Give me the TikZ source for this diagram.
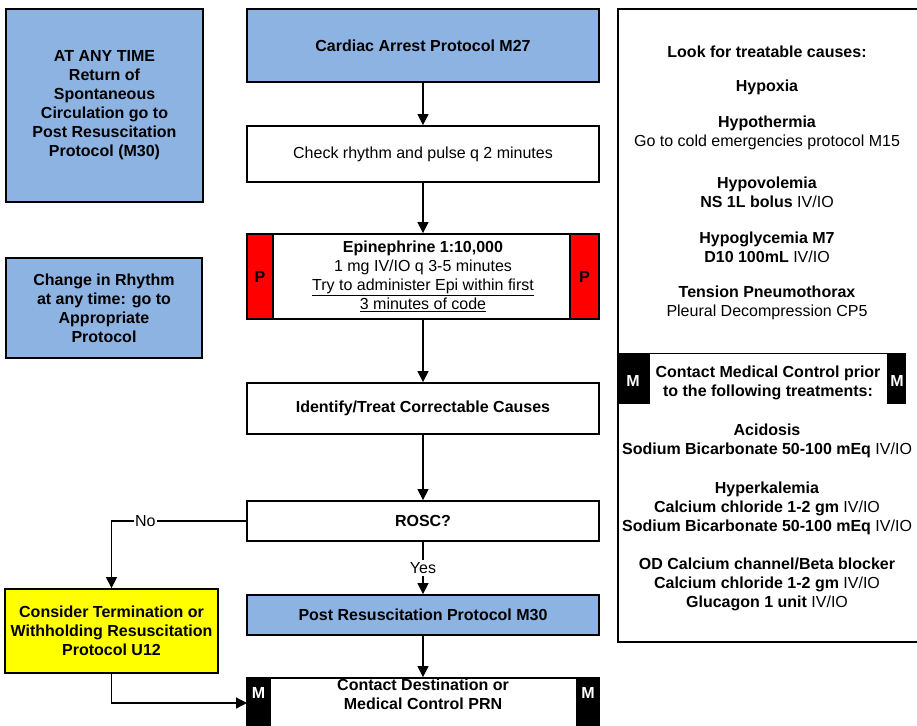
\documentclass[tikz,border=0pt]{standalone}
\usepackage{fontspec}
\setmainfont{Liberation Sans}
\usetikzlibrary{arrows.meta}
\definecolor{protoblue}{RGB}{141,179,226}
\definecolor{termyellow}{RGB}{255,255,0}
\definecolor{pred}{RGB}{255,0,0}
\newcommand{\txt}{\fontsize{16}{19}\selectfont}
\begin{document}
\begin{tikzpicture}[x=1pt,y=-1pt,
  every node/.style={font=\txt},
  box/.style={draw=black, line width=1.8pt, rectangle, inner sep=0pt, align=center},
  plainbox/.style={box, fill=white},
  boldbox/.style={box, fill=white, font=\txt\bfseries},
  bluebox/.style={box, fill=protoblue, font=\txt\bfseries},
  yellowbox/.style={box, fill=termyellow, font=\txt\bfseries},
  pbar/.style={draw=black, line width=1.8pt, fill=pred, inner sep=0pt},
  mbar/.style={draw=black, line width=1.2pt, fill=black, inner sep=0pt},
  mletter/.style={text=white, font=\txt\bfseries, inner sep=0pt},
  info/.style={align=center, inner sep=0pt},
  infob/.style={align=center, inner sep=0pt, font=\txt\bfseries},
  conn/.style={draw=black, line width=1.2pt, -{Triangle[width=11pt,length=11pt]}},
  lbl/.style={fill=white, inner xsep=1pt, inner ysep=2pt, font=\txt}
]
\clip (0,0) rectangle (917,725);
\fill[white] (0,0) rectangle (917,725);

% reminder boxes on the left
\node[bluebox, minimum width=197pt, minimum height=193pt] (anytime) at (104.5,105.5)
  {AT ANY TIME\\Return of\\Spontaneous\\Circulation go to\\Post Resuscitation\\Protocol (M30)};
\node[bluebox, minimum width=196pt, minimum height=100pt] (rhythmchg) at (104,308)
  {Change in Rhythm\\at any time: go to\\Appropriate\\Protocol};

% main column
\node[bluebox, minimum width=352pt, minimum height=73pt] (arrest) at (423,45.5)
  {Cardiac Arrest Protocol M27};
\node[plainbox, minimum width=352pt, minimum height=56pt] (check) at (423,154)
  {Check rhythm and pulse q 2 minutes};
\node[plainbox, minimum width=352pt, minimum height=85pt] (epi) at (423,276.5)
  {\textbf{Epinephrine 1:10,000}\\1 mg IV/IO q 3-5 minutes\\
   \underline{Try to administer Epi within first}\\\underline{3 minutes of code}};
\node[pbar, minimum width=26pt, minimum height=85pt] (epiPL) at (260,276.5) {};
\node[pbar, minimum width=29pt, minimum height=85pt] (epiPR) at (584.5,276.5) {};
\node[font=\txt\bfseries, inner sep=0pt] (pL) at (epiPL) {P};
\node[font=\txt\bfseries, inner sep=0pt] (pR) at (epiPR) {P};
\node[boldbox, minimum width=352pt, minimum height=51pt] (identify) at (423,408.5)
  {Identify/Treat Correctable Causes};
\node[boldbox, minimum width=352pt, minimum height=40pt] (rosc) at (423,521) {ROSC?};
\node[bluebox, minimum width=352pt, minimum height=40pt] (post) at (423,615)
  {Post Resuscitation Protocol M30};
\node[yellowbox, minimum width=213pt, minimum height=84pt] (term) at (111.5,631)
  {Consider Termination or\\Withholding Resuscitation\\Protocol U12};

% contact box with medical control bars
\node[plainbox, minimum width=352pt, minimum height=68pt] (contact) at (423,712) {};
\node[mbar, minimum width=23pt, minimum height=68pt] (contactML) at (258.5,712) {};
\node[mbar, minimum width=22pt, minimum height=68pt] (contactMR) at (588,712) {};
\node[mletter] (cmL) at (258.5,693) {M};
\node[mletter] (cmR) at (588,693) {M};
\node[infob] (contacttext) at (423,694.5) {Contact Destination or\\Medical Control PRN};
\coordinate (cin) at (247,703);

% treatable causes panel
\node[box, minimum width=302pt, minimum height=633pt] (causes) at (769,325.5) {};
\node[infob] (look) at (767,52) {Look for treatable causes:};
\node[infob] (hypoxia) at (767,87) {Hypoxia};
\node[info] (hypothermia) at (767,133) {\textbf{Hypothermia}\\Go to cold emergencies protocol M15};
\node[info] (hypovolemia) at (767,192.5) {\textbf{Hypovolemia}\\\textbf{NS 1L bolus} IV/IO};
\node[info] (hypoglycemia) at (767,247.5) {\textbf{Hypoglycemia M7}\\\textbf{D10 100mL} IV/IO};
\node[info] (tension) at (767,302.5) {\textbf{Tension Pneumothorax}\\Pleural Decompression CP5};
\node[mbar, minimum width=31pt, minimum height=49pt] (mbL) at (633.5,378.5) {};
\node[mbar, minimum width=17pt, minimum height=49pt] (mbR) at (896.5,378.5) {};
\draw[line width=1.8pt] (mbL.north west) -- (mbR.north west);
\node[mletter] (mL) at (633,381) {M};
\node[mletter] (mR) at (897,381) {M};
\node[infob] (medctl) at (768,383) {Contact Medical Control prior\\to the following treatments:};
\node[info] (acidosis) at (767,441) {\textbf{Acidosis}\\\textbf{Sodium Bicarbonate 50-100 mEq} IV/IO};
\node[info] (hyperk) at (767,508) {\textbf{Hyperkalemia}\\\textbf{Calcium chloride 1-2 gm} IV/IO\\
  \textbf{Sodium Bicarbonate 50-100 mEq} IV/IO};
\node[info] (odblock) at (767,584.5) {\textbf{OD Calcium channel/Beta blocker}\\
  \textbf{Calcium chloride 1-2 gm} IV/IO\\\textbf{Glucagon 1 unit} IV/IO};

% connectors
\draw[conn] (arrest) -- (check);
\draw[conn] (check) -- (epi);
\draw[conn] (epi) -- (identify);
\draw[conn] (identify) -- (rosc);
\draw[conn] (rosc) -- node[lbl] {Yes} (post);
\draw[conn] (post) -- (contact);
\draw[conn] (rosc.west) -| node[lbl, pos=0.374] {No} (term.north);
\draw[conn] (term.south) |- (cin);
\end{tikzpicture}
\end{document}
